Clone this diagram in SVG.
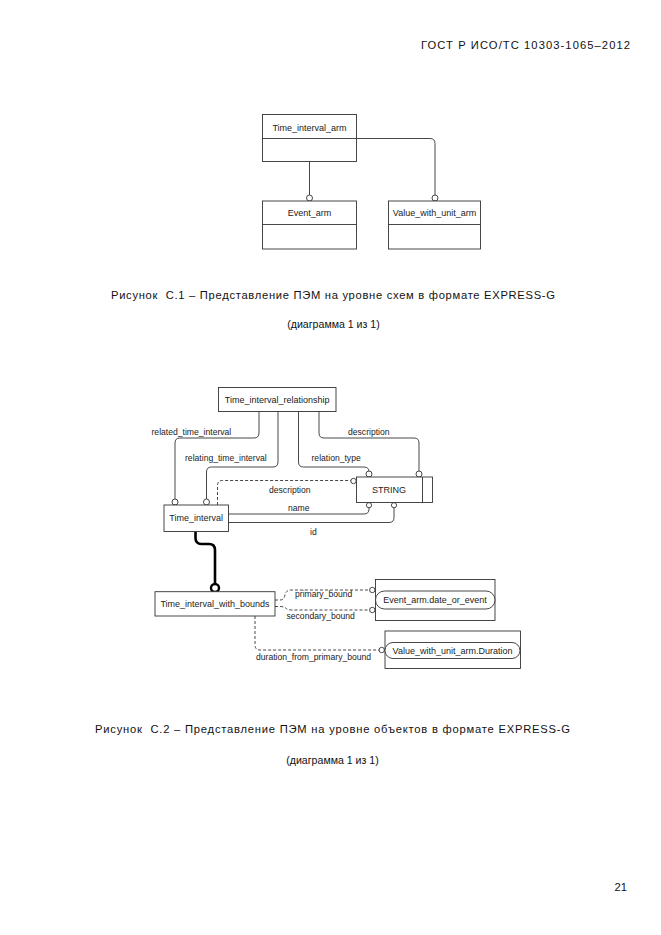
<svg xmlns="http://www.w3.org/2000/svg" width="661" height="935" viewBox="0 0 661 935">
<style>
.bg{fill:#fff}
.box{fill:#fff;stroke:#333;stroke-width:0.9}
.ln{fill:none;stroke:#333;stroke-width:0.9}
.dl{fill:none;stroke:#333;stroke-width:0.9;stroke-dasharray:3 2}
.thick{fill:none;stroke:#000;stroke-width:2.6}
.oc{fill:#fff;stroke:#333;stroke-width:0.9}
.t{font-family:"Liberation Sans",Arial,sans-serif;font-size:9px;fill:#222;text-anchor:middle}
.lb{font-family:"Liberation Sans",Arial,sans-serif;font-size:8.6px;fill:#222}
.cap{font-family:"Liberation Sans",Arial,sans-serif;font-size:11.2px;fill:#111}
.sub{font-family:"Liberation Sans",Arial,sans-serif;font-size:10.6px;fill:#111;text-anchor:middle}
</style>
<rect class="bg" x="0" y="0" width="661" height="935"/>
<text class="cap" x="421" y="48.5" textLength="209" lengthAdjust="spacing">ГОСТ Р ИСО/ТС 10303-1065–2012</text>

<!-- Figure C.1 -->
<g id="connectors1">
<path class="ln" d="M356.5 138.5 H430 Q435 138.5 435 143.5 V195"/>
<circle class="oc" cx="435" cy="198" r="3"/>
<path class="ln" d="M309.5 161.5 V195"/>
<circle class="oc" cx="309.5" cy="198" r="3"/>
</g>
<g id="time_interval_arm">
<rect class="box" x="262.5" y="114.5" width="94" height="47"/>
<line class="ln" x1="262.5" y1="138.5" x2="356.5" y2="138.5"/>
<text class="t" x="309.5" y="130.5">Time_interval_arm</text>
</g>
<g id="event_arm">
<rect class="box" x="262.5" y="201" width="94" height="48"/>
<line class="ln" x1="262.5" y1="224.5" x2="356.5" y2="224.5"/>
<text class="t" x="309.5" y="216">Event_arm</text>
</g>
<g id="value_with_unit_arm">
<rect class="box" x="388.5" y="201" width="92" height="48"/>
<line class="ln" x1="388.5" y1="224.5" x2="480.5" y2="224.5"/>
<text class="t" x="434.5" y="216">Value_with_unit_arm</text>
</g>
<text class="cap" x="111" y="298.5" xml:space="preserve" textLength="444" lengthAdjust="spacing">Рисунок  С.1 – Представление ПЭМ на уровне схем в формате EXPRESS-G</text>
<text class="sub" x="333.5" y="328">(диаграмма 1 из 1)</text>

<!-- Figure C.2 -->
<g id="connectors2">
<path class="ln" d="M259 411.5 V433 Q259 438 254 438 H180 Q175 438 175 443 V499"/>
<circle class="oc" cx="175" cy="502" r="3"/>
<path class="ln" d="M278 411.5 V462 Q278 467 273 467 H211.5 Q206.5 467 206.5 472 V499"/>
<circle class="oc" cx="206.5" cy="502" r="3"/>
<path class="ln" d="M298.5 411.5 V462 Q298.5 467 303.5 467 H364 Q369 467 369 472 V471.5"/>
<circle class="oc" cx="369" cy="474" r="3"/>
<path class="ln" d="M319 411.5 V433 Q319 438 324 438 H414 Q419 438 419 443 V471"/>
<circle class="oc" cx="419" cy="474" r="3"/>
<path class="dl" d="M217.5 505 V485.5 Q217.5 480.5 222.5 480.5 H350.8"/>
<circle class="oc" cx="353.5" cy="481" r="2.7"/>
<path class="ln" d="M228.5 514 H364 Q369 514 369 509 V507.7"/>
<circle class="oc" cx="369" cy="505.2" r="2.6"/>
<path class="ln" d="M228.5 522.5 H389 Q394 522.5 394 517.5 V507.7"/>
<circle class="oc" cx="394" cy="505.2" r="2.6"/>
<path class="thick" d="M195.5 531.5 V538 Q195.5 544 201.5 544 H209 Q215 544 215 550 V584"/>
<circle cx="215" cy="588" r="4" fill="#fff" stroke="#000" stroke-width="2.4"/>
<path class="dl" d="M275 600 H280 Q284 600 285 595 Q286 590 291 590 H369.6"/>
<circle class="oc" cx="372.3" cy="590" r="2.7"/>
<path class="dl" d="M275 606.5 H280 Q284 606.5 286 608.3 Q288 610 292 610 H369.6"/>
<circle class="oc" cx="372.3" cy="610" r="2.7"/>
<path class="dl" d="M255 616 V645 Q255 650 260 650 H379"/>
<circle class="oc" cx="381.7" cy="650" r="2.7"/>
<text class="lb" x="151.5" y="435">related_time_interval</text>
<text class="lb" x="185" y="461">relating_time_interval</text>
<text class="lb" x="311.5" y="461">relation_type</text>
<text class="lb" x="348" y="435">description</text>
<text class="lb" x="269" y="493">description</text>
<text class="lb" x="288" y="510.5">name</text>
<text class="lb" x="310" y="535">id</text>
<text class="lb" x="295" y="597">primary_bound</text>
<text class="lb" x="286.5" y="619">secondary_bound</text>
<text class="lb" x="256" y="660">duration_from_primary_bound</text>
</g>
<g id="time_interval_relationship">
<rect class="box" x="218.5" y="387.5" width="117.5" height="24"/>
<text class="t" x="277.2" y="403">Time_interval_relationship</text>
</g>
<g id="string">
<rect class="box" x="356.5" y="477" width="76" height="25.5"/>
<line class="ln" x1="422.5" y1="477" x2="422.5" y2="502.5"/>
<text class="t" x="389" y="493">STRING</text>
</g>
<g id="time_interval">
<rect class="box" x="164" y="505" width="64.5" height="26.5"/>
<text class="t" x="196.2" y="521">Time_interval</text>
</g>
<g id="time_interval_with_bounds">
<rect class="box" x="155" y="591.7" width="120" height="24.3"/>
<text class="t" x="215" y="606.5">Time_interval_with_bounds</text>
</g>
<g id="event_arm_date_or_event">
<rect class="box" x="375.5" y="579.5" width="119.5" height="41"/>
<rect class="box" x="375.5" y="591" width="119.5" height="18" rx="9"/>
<text class="t" x="435" y="603">Event_arm.date_or_event</text>
</g>
<g id="value_with_unit_arm_duration">
<rect class="box" x="385" y="631" width="135.5" height="37.5"/>
<rect class="box" x="385" y="642.5" width="135" height="16" rx="8"/>
<text class="t" x="452.5" y="653.5">Value_with_unit_arm.Duration</text>
</g>
<text class="cap" x="95" y="733" xml:space="preserve" textLength="475" lengthAdjust="spacing">Рисунок  С.2 – Представление ПЭМ на уровне объектов в формате EXPRESS-G</text>
<text class="sub" x="332.5" y="763.5">(диаграмма 1 из 1)</text>
<text class="cap" x="627" y="891" text-anchor="end">21</text>
</svg>
